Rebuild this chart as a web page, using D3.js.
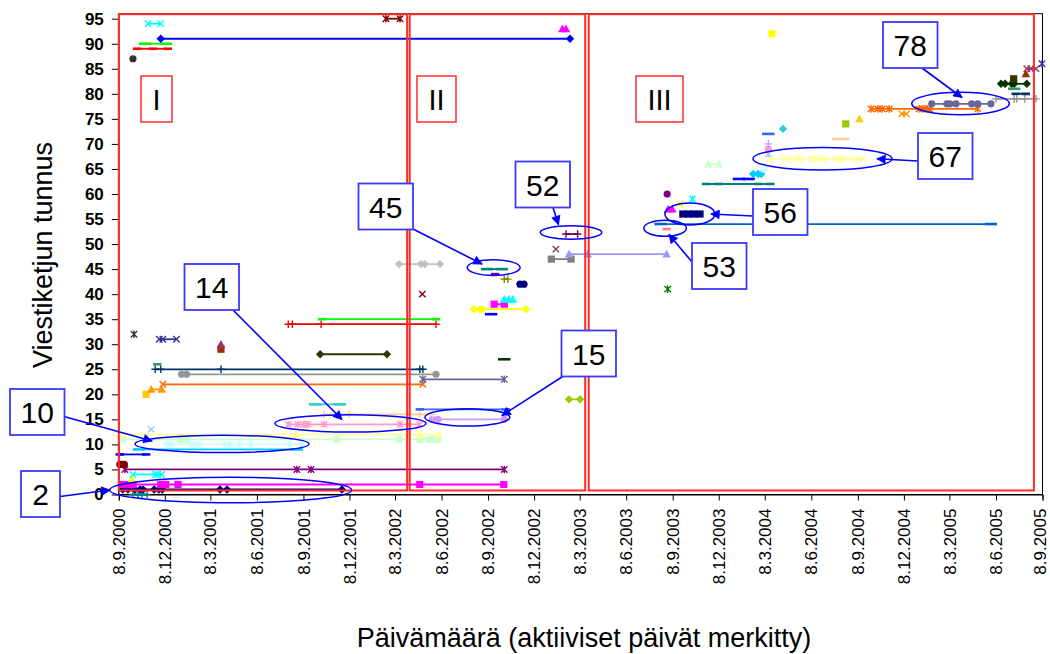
<!DOCTYPE html>
<html>
<head>
<meta charset="utf-8">
<script src="https://cdn.jsdelivr.net/npm/d3@7"></script>
<style>
  body { margin: 0; background: #fff; }
  svg { display: block; }
  text { font-family: "Liberation Sans", Arial, sans-serif; }
</style>
</head>
<body>
<svg id="chart" width="1050" height="654"></svg>
<script>
// ---- Data -----------------------------------------------------------------
// Thread ids and the days on which each thread was active (d.m.yyyy).
const threadIds = [
  0, 1, 2, 3, 4, 5, 6, 8, 9, 10, 11, 12, 13, 14, 15, 16, 17, 18, 19, 20,
  21, 22, 23, 24, 25, 26, 27, 28, 29, 30, 31, 32, 34, 35, 36, 37, 38, 39, 40, 41,
  42, 43, 44, 45, 46, 47, 48, 49, 52, 53, 54, 56, 57, 58, 59, 60, 62, 63, 64, 65,
  66, 67, 68, 69, 70, 71, 72, 73, 74, 75, 76, 77, 78, 79, 80, 81, 82, 83, 84, 85,
  86, 87, 89, 90, 91, 92, 93, 94, 95
];
const activeDays = [
  "6.10.2000 16.10.2000 24.10.2000 3.11.2000",
  "16.9.2000 26.9.2000 10.10.2000 20.10.2000 26.10.2000 17.11.2000 26.11.2000 3.12.2000 27.3.2001 10.4.2001 23.11.2001",
  "14.9.2000 24.9.2000 6.10.2000 30.11.2000 10.12.2000 3.1.2001 26.4.2002 9.10.2002",
  "4.10.2000",
  "6.10.2000 19.11.2000 24.11.2000 2.12.2000",
  "20.9.2000 26.8.2001 23.9.2001 10.10.2002",
  "10.9.2000 14.9.2000 19.9.2000",
  "10.9.2000 1.11.2000",
  "18.10.2000 26.8.2001",
  "12.12.2000 22.12.2000 29.1.2001 6.2.2001 13.2.2001 6.4.2001 16.4.2001 4.5.2001 27.5.2001 12.8.2001 5.9.2001",
  "16.9.2000 9.1.2001 19.1.2001 13.11.2001 16.3.2002 26.4.2002 14.5.2002 24.5.2002 1.6.2002",
  "12.9.2000 23.8.2001 26.8.2001 26.4.2002 3.6.2002",
  "11.11.2000",
  "9.8.2001 28.8.2001 9.9.2001 17.9.2001 19.10.2001 18.3.2002 26.4.2002",
  "21.5.2002 1.6.2002 10.10.2002",
  "19.10.2001 7.12.2001 26.4.2002 21.5.2002",
  "26.4.2002 13.10.2002",
  "1.10.2001 19.11.2001",
  "15.2.2003 9.3.2003",
  "1.11.2000",
  "11.11.2000 2.12.2000",
  "4.12.2000 2.5.2002",
  "2.5.2002 10.10.2002",
  "10.1.2001 20.1.2001 28.5.2002",
  "19.11.2000 30.11.2000 29.3.2001 26.4.2002 2.5.2002",
  "23.11.2000",
  "10.10.2002",
  "11.10.2001 20.2.2002",
  "29.3.2001",
  "29.3.2001",
  "27.11.2000 4.12.2000 31.12.2000",
  "8.10.2000",
  "9.8.2001 17.8.2001 13.10.2001 28.5.2002",
  "15.10.2001 28.5.2002",
  "14.9.2002",
  "11.8.2002 23.8.2002 27.8.2002 22.11.2002",
  "20.9.2002 10.10.2002",
  "10.10.2002 19.10.2002 27.10.2002",
  "1.5.2002",
  "29.8.2003",
  "10.11.2002 18.11.2002",
  "10.10.2002 17.10.2002",
  "22.9.2002",
  "6.9.2002 5.10.2002",
  "16.3.2002 28.4.2002 6.5.2002 5.6.2002",
  "11.1.2003 19.2.2003",
  "15.2.2003 24.3.2003 27.8.2003",
  "20.1.2003",
  "9.2.2003 4.3.2003",
  "27.8.2003",
  "15.8.2003 29.5.2005",
  "28.9.2003 9.10.2003 20.10.2003 1.11.2003",
  "30.8.2003 7.9.2003",
  "22.9.2003",
  "17.10.2003",
  "28.8.2003",
  "13.11.2003 7.12.2003 24.2.2004 19.3.2004",
  "17.1.2004 5.2.2004",
  "14.2.2004 24.2.2004 1.3.2004",
  "7.3.2004",
  "17.11.2003 8.12.2003",
  "18.3.2004 17.4.2004 23.4.2004 10.5.2004 16.5.2004 9.6.2004 13.6.2004 29.6.2004 5.7.2004 27.7.2004 4.8.2004 10.8.2004 29.8.2004 8.9.2004 18.9.2004",
  "15.3.2004",
  "15.3.2004",
  "15.3.2004",
  "27.7.2004 14.8.2004",
  "15.3.2004",
  "13.4.2004",
  "15.8.2004",
  "11.9.2004",
  "4.12.2004 13.12.2004",
  "4.10.2004 17.10.2004 26.10.2004 9.11.2004 7.1.2005 15.1.2005 23.1.2005 28.1.2005 3.5.2005",
  "1.2.2005 3.3.2005 9.3.2005 21.3.2005 21.4.2005 3.5.2005 29.5.2005",
  "8.6.2005 14.7.2005 19.7.2005 4.8.2005 26.8.2005",
  "17.7.2005 6.8.2005",
  "14.7.2005",
  "18.6.2005 26.6.2005 9.7.2005 14.7.2005 8.8.2005",
  "13.7.2005",
  "6.8.2005",
  "8.8.2005 16.8.2005 26.8.2005",
  "7.9.2005",
  "6.10.2000",
  "14.10.2000 14.11.2000 14.12.2000",
  "30.10.2000 10.12.2000",
  "30.11.2000 17.2.2003",
  "22.3.2004",
  "2.2.2003 9.2.2003",
  "5.11.2000 30.11.2000",
  "18.2.2002 18.3.2002"
];

// Axis ticks
const xTickDates = [
  "8.9.2000", "8.12.2000", "8.3.2001", "8.6.2001", "8.9.2001", "8.12.2001",
  "8.3.2002", "8.6.2002", "8.9.2002", "8.12.2002", "8.3.2003", "8.6.2003",
  "8.9.2003", "8.12.2003", "8.3.2004", "8.6.2004", "8.9.2004", "8.12.2004",
  "8.3.2005", "8.6.2005", "8.9.2005"
];
const yTicks = d3.range(0, 96, 5);

// Periods of the discussion
const periodNames = ["I", "II", "III"];
const periodStart = ["8.9.2000", "6.4.2002", "26.3.2003"];
const periodEnd = ["1.4.2002", "19.3.2003", "22.8.2005"];

// Highlighted threads: label, circled area centre (date, thread id)
const calloutLabels = ["2", "10", "14", "15", "45", "52", "53", "56", "67", "78"];
const calloutDates = ["17.4.2001", "31.3.2001", "10.12.2001", "29.7.2002", "19.9.2002",
                      "19.2.2003", "24.8.2003", "12.10.2003", "30.6.2004", "30.3.2005"];
const calloutIds = [0.9, 10.1, 14.2, 15.4, 45.3, 52.3, 53.15, 56.0, 67.05, 78.06];

// ---- Layout & styles ------------------------------------------------------
// ellipse radii, label box [x, y, width], arrow start [x, y] and arrow tip [x, y]
const calloutLayout = [
  { rx: 121, ry: 12.8, box: [21, 471, 39], from: [60, 496.5], to: [110, 490] },
  { rx: 87, ry: 8.7, box: [10, 389, 54.5], from: [64, 416.5], to: [152, 441] },
  { rx: 75.5, ry: 8.7, box: [184.5, 264, 54.5], from: [233, 310], to: [342, 419.5] },
  { rx: 42.5, ry: 8.7, box: [561.5, 330.5, 54.5], from: [563.5, 376], to: [502, 415.5] },
  { rx: 26.5, ry: 7.8, box: [358.5, 183.5, 54.5], from: [413, 229], to: [482, 264] },
  { rx: 30.8, ry: 6.7, box: [515.5, 161.5, 54.5], from: [553, 207.5], to: [558.5, 224.5] },
  { rx: 21.3, ry: 8, box: [692, 243, 54.5], from: [692, 262], to: [669, 234.5] },
  { rx: 25, ry: 11, box: [753, 189, 54.5], from: [753, 216], to: [711, 214] },
  { rx: 69.5, ry: 11.3, box: [918, 133, 54.5], from: [918, 161], to: [877, 158.7] },
  { rx: 48.8, ry: 11.2, box: [883, 22, 54.5], from: [922, 68], to: [962, 97.5] }
];
const boxH = 46;
const periodBoxes = [[141, 76, 31], [417, 76, 39], [636, 76, 47]];

// Chart series colours and marker shapes, cycled by thread id
const palette = [
  "#000080", "#FF00FF", "#FFFF00", "#00FFFF", "#800080", "#800000", "#008080", "#0000FF",
  "#00CCFF", "#CCFFFF", "#CCFFCC", "#FFFF99", "#99CCFF", "#FF99CC", "#CC99FF", "#FFCC99",
  "#3366FF", "#33CCCC", "#99CC00", "#FFCC00", "#FF9900", "#FF6600", "#666699", "#969696",
  "#003366", "#339966", "#003300", "#333300", "#993300", "#993366", "#333399", "#333333",
  "#FFFFFF", "#FF0000", "#00FF00", "#0000FF", "#FFFF00", "#FF00FF", "#00FFFF", "#800000",
  "#008000", "#000080", "#808000", "#800080", "#008080", "#C0C0C0", "#808080", "#9999FF",
  "#993366", "#FFFFCC", "#CCFFFF", "#660066", "#FF8080", "#0066CC", "#CCCCFF"
];
const markerShapes = ["diamond", "square", "triangle", "x", "star", "circle", "plus", "dash", "longdash"];
const styleIndex = id => (id === 0 ? 7 : id);
const colorOf = id => palette[(styleIndex(id) - 1) % palette.length];
const shapeOf = id => markerShapes[(styleIndex(id) - 1) % markerShapes.length];

// ---- Scales ---------------------------------------------------------------
const parse = d3.timeParse("%d.%m.%Y");
const fmt = d3.timeFormat("%-d.%-m.%Y");
const svg = d3.select("#chart");

const x = d3.scaleTime()
  .domain([parse("8.9.2000"), parse("8.9.2005")])
  .range([118.8, 1042.5]);
const y = d3.scaleLinear().domain([0, 95]).range([494.5, 18.7]);
const yTop = 96;

// ---- Plot frame and axes --------------------------------------------------
svg.append("rect")
  .attr("x", x.range()[0]).attr("y", y(yTop))
  .attr("width", x.range()[1] - x.range()[0])
  .attr("height", y(0) - y(yTop))
  .attr("fill", "none").attr("stroke", "#000").attr("stroke-width", 1);

const yAxis = svg.append("g")
  .attr("transform", `translate(${x.range()[0]},0)`)
  .call(d3.axisLeft(y).tickValues(yTicks).tickSize(7).tickPadding(8));
yAxis.select(".domain").attr("stroke", "#000").attr("d", `M0,${y(yTop)}V${y(0)}`);
yAxis.selectAll("text")
  .attr("font-size", 17).attr("font-weight", "bold")
  .attr("font-family", "\"Liberation Sans\", Arial, sans-serif").attr("fill", "#000");

const xAxis = svg.append("g")
  .attr("transform", `translate(0,${y(0)})`)
  .call(d3.axisBottom(x).tickValues(xTickDates.map(parse)).tickSize(6).tickFormat(fmt));
xAxis.select(".domain").attr("stroke", "#000");
const xLabels = xAxis.selectAll("text")
  .attr("font-size", 17)
  .attr("font-family", "\"Liberation Sans\", Arial, sans-serif").attr("fill", "#000")
  .attr("transform", "rotate(-90)")
  .attr("text-anchor", "end")
  .attr("x", -14).attr("y", 0).attr("dy", "0.33em");
// keep the last date label inside the drawing
xLabels.filter((d, i, n) => i === n.length - 1).attr("y", -3);

svg.append("text")
  .attr("x", 584).attr("y", 647)
  .attr("text-anchor", "middle").attr("font-size", 27)
  .text("Päivämäärä (aktiiviset päivät merkitty)");
svg.append("text")
  .attr("transform", "translate(52,255) rotate(-90)")
  .attr("text-anchor", "middle").attr("font-size", 27)
  .text("Viestiketjun tunnus");

// ---- Threads --------------------------------------------------------------
function markerPath(shape, cx, cy) {
  const s = 3.6;
  switch (shape) {
    case "diamond": return `M${cx},${cy - 4.2}L${cx + 4.2},${cy}L${cx},${cy + 4.2}L${cx - 4.2},${cy}Z`;
    case "square": return `M${cx - s},${cy - s}h${2 * s}v${2 * s}h${-2 * s}Z`;
    case "triangle": return `M${cx},${cy - 4.3}L${cx + 4.3},${cy + 3.5}L${cx - 4.3},${cy + 3.5}Z`;
    case "x": return `M${cx - 3.2},${cy - 3.2}L${cx + 3.2},${cy + 3.2}M${cx - 3.2},${cy + 3.2}L${cx + 3.2},${cy - 3.2}`;
    case "star": return `M${cx - 3.2},${cy - 3.2}L${cx + 3.2},${cy + 3.2}M${cx - 3.2},${cy + 3.2}L${cx + 3.2},${cy - 3.2}M${cx},${cy - 3.8}V${cy + 3.8}`;
    case "plus": return `M${cx - 3.8},${cy}H${cx + 3.8}M${cx},${cy - 3.8}V${cy + 3.8}`;
    case "dash": return `M${cx - 4.2},${cy - 1.3}h8.4v2.6h-8.4Z`;
    case "longdash": return `M${cx - 6.2},${cy - 1.3}h12.4v2.6h-12.4Z`;
    default: return null;
  }
}
const strokeOnly = new Set(["x", "star", "plus"]);

const threads = threadIds.map((id, i) => ({
  id,
  days: activeDays[i].split(" ").map(parse)
}));

const line = d3.line();
const threadG = svg.append("g").attr("class", "threads");
threads.forEach(t => {
  const color = colorOf(t.id);
  const shape = shapeOf(t.id);
  const g = threadG.append("g");
  const pts = t.days.map(d => [x(d), y(t.id)]);
  if (pts.length > 1) {
    g.append("path")
      .attr("d", line(pts))
      .attr("fill", "none").attr("stroke", color).attr("stroke-width", 1.8);
  }
  pts.forEach(([cx, cy]) => {
    if (shape === "circle") {
      g.append("circle").attr("cx", cx).attr("cy", cy).attr("r", 3.6).attr("fill", color);
    } else if (strokeOnly.has(shape)) {
      g.append("path").attr("d", markerPath(shape, cx, cy))
        .attr("fill", "none").attr("stroke", color).attr("stroke-width", 1.4);
    } else {
      g.append("path").attr("d", markerPath(shape, cx, cy)).attr("fill", color);
    }
  });
});

// ---- Periods --------------------------------------------------------------
const periodG = svg.append("g");
periodNames.forEach((name, i) => {
  const x0 = x(parse(periodStart[i])), x1 = x(parse(periodEnd[i]));
  periodG.append("rect")
    .attr("x", x0).attr("y", y(95.9))
    .attr("width", x1 - x0).attr("height", y(0.8) - y(95.9))
    .attr("fill", "none").attr("stroke", "#ff2a2a").attr("stroke-width", 2);
  const [bx, by, bw] = periodBoxes[i];
  periodG.append("rect")
    .attr("x", bx).attr("y", by).attr("width", bw).attr("height", 46)
    .attr("fill", "#fff").attr("stroke", "#ff3b3b").attr("stroke-width", 1.6);
  periodG.append("text")
    .attr("x", bx + bw / 2).attr("y", by + 34)
    .attr("text-anchor", "middle").attr("font-size", 29)
    .text(name);
});

// ---- Callouts -------------------------------------------------------------
svg.append("defs").append("marker")
  .attr("id", "arrowhead")
  .attr("viewBox", "0 0 10 10").attr("refX", 9).attr("refY", 5)
  .attr("markerWidth", 7).attr("markerHeight", 6)
  .attr("markerUnits", "strokeWidth")
  .attr("orient", "auto")
  .append("path").attr("d", "M0,0L10,5L0,10Z").attr("fill", "#0000ff");

const calloutG = svg.append("g");
calloutLabels.forEach((label, i) => {
  const L = calloutLayout[i];
  const [bx, by, bw] = L.box;
  calloutG.append("ellipse")
    .attr("cx", x(parse(calloutDates[i]))).attr("cy", y(calloutIds[i]))
    .attr("rx", L.rx).attr("ry", L.ry)
    .attr("fill", "none").attr("stroke", "#0000ff").attr("stroke-width", 1.5);
  calloutG.append("line")
    .attr("x1", L.from[0]).attr("y1", L.from[1])
    .attr("x2", L.to[0]).attr("y2", L.to[1])
    .attr("stroke", "#0000ff").attr("stroke-width", 1.6)
    .attr("marker-end", "url(#arrowhead)");
  calloutG.append("rect")
    .attr("x", bx).attr("y", by).attr("width", bw).attr("height", boxH)
    .attr("fill", "#fff").attr("stroke", "#3a3aff").attr("stroke-width", 1.8);
  calloutG.append("text")
    .attr("x", bx + bw / 2).attr("y", by + 34)
    .attr("text-anchor", "middle").attr("font-size", 30)
    .text(label);
});
</script>
</body>
</html>
